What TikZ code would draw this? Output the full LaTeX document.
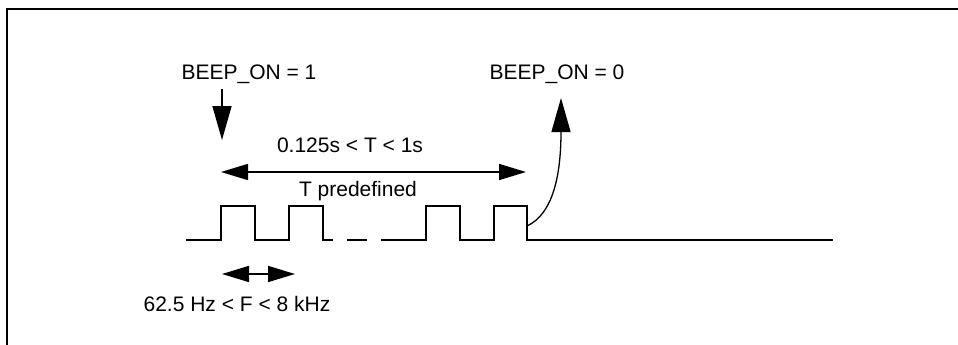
\documentclass[tikz,border=0pt]{standalone}
\usepackage{fontspec}
\setmainfont{Liberation Sans}
\usetikzlibrary{arrows.meta}
\tikzstyle{label} = [anchor=base, inner sep=0pt, font=\fontsize{21pt}{25pt}\selectfont]
\tikzstyle{signal} = [line width=1.7pt, line join=miter]
\tikzstyle{bigarrow} = [line width=1.6pt, -{Triangle[length=34pt, width=19pt]}]
\tikzstyle{spanarrow} = [line width=1.6pt, {Triangle[length=27pt, width=16pt]}-{Triangle[length=27pt, width=16pt]}]
\tikzstyle{frame} = [line width=2pt]

\begin{document}
\begin{tikzpicture}[x=1pt, y=-1pt]
\useasboundingbox (0,0) rectangle (958,345);

%Frame
\draw [frame] (7,345) -- (7,9) -- (958,9);

%Labels
\node (on1) [label] at (249,79) {BEEP\_ON = 1};
\node (on0) [label] at (557,79) {BEEP\_ON = 0};
\node (trange) [label] at (350,152) {0.125s < T < 1s};
\node (tpre) [label] at (358,196) {T predefined};
\node (frange) [label] at (237,311) {62.5 Hz < F < 8 kHz};

%Signal
\draw [signal] (186,240) -- (221,240) -- (221,206) -- (255,206) -- (255,240) -- (289,240)
  -- (289,206) -- (323,206) -- (323,240) -- (333,240);
\draw [signal] (347,240) -- (367,240);
\draw [signal] (381,240) -- (426,240) -- (426,206) -- (460,206) -- (460,240) -- (494,240)
  -- (494,206) -- (527,206) -- (527,240) -- (833,240);

%Arrows
\coordinate (start) at (222,89);
\coordinate (stop) at (527,226);
\coordinate (tl) at (221,172);
\coordinate (tr) at (526,172);
\coordinate (fl) at (222,274);
\coordinate (fr) at (295,274);

\draw [bigarrow] (start) -- ++(0,51);
\draw [bigarrow, line width=1.3pt] (stop) .. controls (553,214) and (561,175) .. (561,98);
\draw [spanarrow] (tl) -- (tr);
\draw [spanarrow] (fl) -- (fr);
\end{tikzpicture}
\end{document}
